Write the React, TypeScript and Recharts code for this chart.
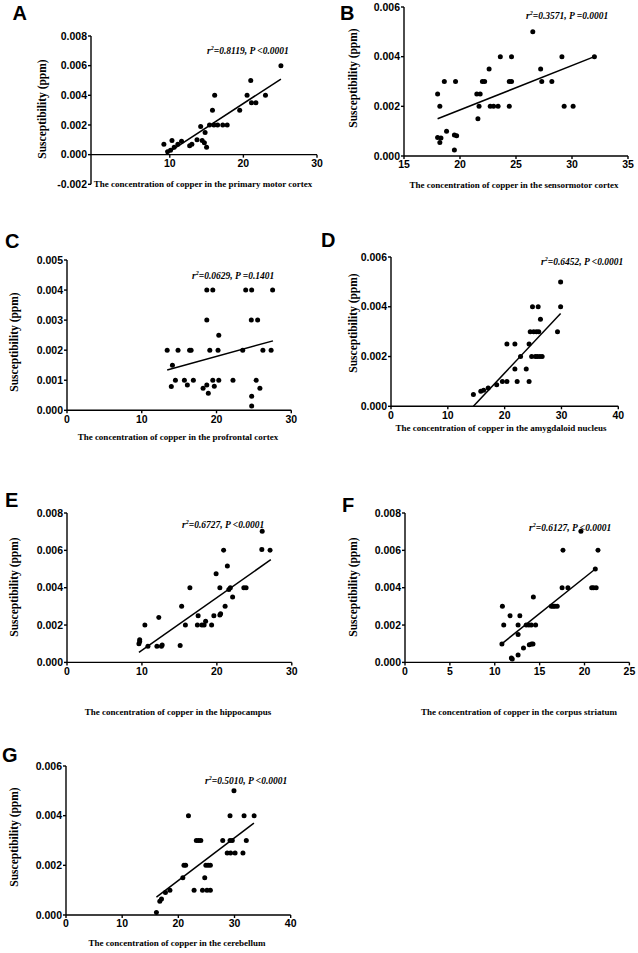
import React from "react";
import { ScatterChart, Scatter, XAxis, YAxis, ReferenceLine } from "recharts";

const SERIF = "'Times New Roman', 'Liberation Serif', serif";
const SANS = "Arial, 'Liberation Sans', Helvetica, sans-serif";

// A - primary motor cortex
const aX = [9.2, 9.7, 10.1, 10.3, 10.6, 11.1, 11.6, 12.7, 13.0, 13.7, 14.2, 14.4, 14.7, 14.8, 15.0, 15.4, 15.8, 16.0, 16.1, 16.5, 17.2, 17.8, 19.5, 20.5, 21.0, 21.1, 21.7, 23.0, 25.1];
const aY = [0.0007, 0.0002, 0.0003, 0.00095, 0.0005, 0.0007, 0.0009, 0.0006, 0.0007, 0.001, 0.0019, 0.00095, 0.0008, 0.0015, 0.0005, 0.002, 0.003, 0.002, 0.004, 0.002, 0.002, 0.002, 0.003, 0.004, 0.005, 0.0035, 0.0035, 0.004, 0.006];
const aFitX = [9.5, 25.1];
const aFitY = [0.00005, 0.0051];
const aXTicks = [10, 20, 30];
const aYTicks = [-0.002, 0, 0.002, 0.004, 0.006, 0.008];

// B - sensormotor cortex
const bX = [18.0, 18.0, 18.2, 18.2, 18.3, 18.6, 18.8, 19.5, 19.5, 19.7, 19.6, 21.5, 21.8, 21.6, 21.7, 22.0, 22.2, 22.6, 23.6, 22.7, 23.0, 23.4, 24.4, 24.4, 24.6, 24.6, 26.5, 27.2, 27.3, 28.2, 29.1, 29.3, 30.1, 32.0];
const bY = [0.0025, 0.00074, 0.002, 0.00054, 0.00072, 0.003, 0.001, 0.00024, 0.00085, 0.00082, 0.003, 0.0025, 0.0025, 0.0015, 0.002, 0.003, 0.003, 0.0035, 0.004, 0.002, 0.002, 0.002, 0.002, 0.003, 0.003, 0.004, 0.005, 0.0035, 0.003, 0.003, 0.004, 0.002, 0.002, 0.004];
const bFitX = [18.0, 32.0];
const bFitY = [0.0015, 0.004];
const bXTicks = [15, 20, 25, 30, 35];
const bYTicks = [0, 0.002, 0.004, 0.006];

// C - profrontal cortex
const cX = [13.4, 13.95, 14.1, 14.5, 14.85, 15.7, 16.1, 16.4, 16.6, 16.9, 18.2, 18.7, 18.7, 18.7, 18.9, 19.1, 19.5, 19.5, 19.7, 20.2, 20.3, 20.3, 22.2, 23.5, 23.9, 24.7, 24.65, 24.7, 24.7, 25.3, 25.5, 25.8, 26.2, 27.3, 27.5];
const cY = [0.002, 0.00079, 0.0015, 0.001, 0.002, 0.001, 0.00084, 0.002, 0.002, 0.001, 0.00073, 0.00084, 0.003, 0.004, 0.00057, 0.002, 0.004, 0.001, 0.0008, 0.002, 0.0025, 0.001, 0.001, 0.002, 0.004, 0.004, 0.003, 0.00047, 0.00014, 0.001, 0.003, 0.00073, 0.002, 0.002, 0.004];
const cFitX = [13.4, 27.55];
const cFitY = [0.00134, 0.00231];
const cXTicks = [0, 10, 20, 30];
const cYTicks = [0, 0.001, 0.002, 0.003, 0.004, 0.005];

// D - amygdaloid nucleus
const dX = [14.5, 15.8, 16.3, 17.1, 18.6, 19.6, 20.4, 20.4, 21.8, 21.8, 22.2, 22.8, 23.8, 24.3, 24.3, 24.5, 24.75, 24.9, 25.1, 25.4, 25.6, 25.75, 25.9, 26.0, 26.2, 26.3, 26.6, 29.3, 29.85, 29.85];
const dY = [0.00047, 0.0006, 0.00064, 0.00074, 0.00087, 0.001, 0.001, 0.0025, 0.0025, 0.0015, 0.001, 0.002, 0.0015, 0.001, 0.0025, 0.003, 0.002, 0.004, 0.003, 0.002, 0.003, 0.002, 0.004, 0.003, 0.002, 0.0035, 0.002, 0.003, 0.004, 0.005];
const dFitX = [14.5, 29.85];
const dFitY = [0.0, 0.00373];
const dXTicks = [0, 10, 20, 30, 40];
const dYTicks = [0, 0.002, 0.004, 0.006];

// E - hippocampus
const eX = [9.6, 9.7, 9.7, 10.4, 10.8, 12.0, 12.25, 12.6, 12.7, 15.1, 15.3, 15.8, 16.4, 17.4, 17.5, 18.0, 18.3, 18.5, 19.3, 19.6, 19.9, 20.4, 20.4, 20.5, 20.9, 21.1, 21.4, 21.6, 21.8, 22.1, 23.6, 23.9, 26.05, 26.0, 27.1];
const eY = [0.001, 0.00121, 0.00112, 0.002, 0.00086, 0.00086, 0.0024, 0.00086, 0.00093, 0.0009, 0.003, 0.002, 0.004, 0.002, 0.0025, 0.002, 0.002, 0.0022, 0.002, 0.0025, 0.00475, 0.004, 0.00254, 0.0026, 0.006, 0.003, 0.00516, 0.0039, 0.004, 0.0035, 0.004, 0.004, 0.00702, 0.00605, 0.006];
const eFitX = [9.6, 27.2];
const eFitY = [0.00054, 0.0055];
const eXTicks = [0, 10, 20, 30];
const eYTicks = [0, 0.002, 0.004, 0.006, 0.008];

// F - corpus striatum
const fX = [10.8, 10.85, 11.0, 11.7, 11.85, 11.95, 12.6, 12.6, 12.6, 12.8, 13.2, 13.5, 13.8, 13.85, 14.1, 14.26, 14.07, 14.3, 14.55, 16.3, 16.5, 16.7, 16.96, 17.5, 17.6, 18.15, 19.6, 20.8, 21.0, 21.3, 21.2, 21.5];
const fY = [0.00098, 0.003, 0.002, 0.0025, 0.00023, 0.00018, 0.0004, 0.002, 0.0015, 0.0025, 0.00077, 0.002, 0.002, 0.00095, 0.00098, 0.00098, 0.002, 0.0035, 0.002, 0.003, 0.003, 0.003, 0.003, 0.004, 0.006, 0.004, 0.00702, 0.004, 0.004, 0.004, 0.005, 0.006];
const fFitX = [10.74, 21.2];
const fFitY = [0.00098, 0.005];
const fXTicks = [0, 5, 10, 15, 20, 25];
const fYTicks = [0, 0.002, 0.004, 0.006, 0.008];

// G - cerebellum
const gX = [16.1, 16.7, 17.0, 17.7, 18.5, 20.8, 21.0, 21.3, 21.8, 22.8, 23.2, 23.6, 24.0, 24.3, 24.7, 24.9, 25.1, 25.3, 25.7, 25.7, 27.9, 28.7, 29.2, 29.2, 29.3, 29.6, 29.9, 30.1, 31.5, 31.7, 32.1, 33.5];
const gY = [0.0001, 0.00055, 0.00064, 0.00091, 0.001, 0.0015, 0.002, 0.002, 0.004, 0.001, 0.003, 0.003, 0.003, 0.001, 0.0015, 0.002, 0.001, 0.002, 0.002, 0.001, 0.003, 0.0025, 0.004, 0.003, 0.0025, 0.003, 0.005, 0.0025, 0.0025, 0.004, 0.003, 0.004];
const gFitX = [16.1, 33.45];
const gFitY = [0.00072, 0.0037];
const gXTicks = [0, 10, 20, 30, 40];
const gYTicks = [0, 0.002, 0.004, 0.006];

const letters = ["A", "B", "C", "D", "E", "F", "G"];
const regions = [
  "primary motor cortex",
  "sensormotor cortex",
  "profrontal cortex",
  "amygdaloid nucleus",
  "hippocampus",
  "corpus striatum",
  "cerebellum",
];
const r2Values = ["0.8119", "0.3571", "0.0629", "0.6452", "0.6727", "0.6127", "0.5010"];
const pValues = ["<0.0001", "=0.0001", "=0.1401", "<0.0001", "<0.0001", "<0.0001", "<0.0001"];

type Panel = {
  xs: number[];
  ys: number[];
  fitX: number[];
  fitY: number[];
  xTicks: number[];
  yTicks: number[];
  xDomain: [number, number];
  box: [number, number, number, number]; // left, right, top, bottom of plot area
  xTitle: [number, number];
  yTitle: [number, number];
  note: [number, number];
  letter: [number, number];
  zeroAxis?: boolean;
};

const panels: Panel[] = [
  { xs: aX, ys: aY, fitX: aFitX, fitY: aFitY, xTicks: aXTicks, yTicks: aYTicks, xDomain: [-0.7, 30],
    box: [90.7, 316.7, 35.7, 184], xTitle: [203, 184], yTitle: [42, 109], note: [207, 51], letter: [12.5, 20], zeroAxis: true },
  { xs: bX, ys: bY, fitX: bFitX, fitY: bFitY, xTicks: bXTicks, yTicks: bYTicks, xDomain: [15, 35],
    box: [404, 628, 6.7, 155.7], xTitle: [514, 185], yTitle: [353, 78], note: [526, 16], letter: [340, 20] },
  { xs: cX, ys: cY, fitX: cFitX, fitY: cFitY, xTicks: cXTicks, yTicks: cYTicks, xDomain: [0, 30],
    box: [66.7, 291, 260, 410.3], xTitle: [178, 437], yTitle: [14, 342], note: [192, 276], letter: [5, 248] },
  { xs: dX, ys: dY, fitX: dFitX, fitY: dFitY, xTicks: dXTicks, yTicks: dYTicks, xDomain: [0, 40],
    box: [390.7, 618, 256.7, 406], xTitle: [501, 428], yTitle: [353, 323], note: [541, 262], letter: [321, 246.5] },
  { xs: eX, ys: eY, fitX: eFitX, fitY: eFitY, xTicks: eXTicks, yTicks: eYTicks, xDomain: [0, 30],
    box: [66.7, 291.5, 513.3, 662.7], xTitle: [178, 712], yTitle: [14, 587], note: [182, 525], letter: [5, 507] },
  { xs: fX, ys: fY, fitX: fFitX, fitY: fFitY, xTicks: fXTicks, yTicks: fYTicks, xDomain: [0, 25],
    box: [405.3, 629.7, 513.3, 662.7], xTitle: [519, 712], yTitle: [353, 587], note: [529, 528], letter: [342, 512] },
  { xs: gX, ys: gY, fitX: gFitX, fitY: gFitY, xTicks: gXTicks, yTicks: gYTicks, xDomain: [0, 40],
    box: [66, 290.7, 766, 915], xTitle: [177, 943], yTitle: [13.5, 837], note: [205, 781], letter: [2, 762] },
];

const ML = 60;
const MT = 8;
const MR = 14;
const MB = 28;
const TS = 3;
const TM = 2;
const AXIS = { stroke: "#000", strokeWidth: 1.4 };
const TICK = { fill: "#000", fontSize: 10.5, fontWeight: 700, fontFamily: SANS };

const Dot = (props: any) => <circle cx={props.cx} cy={props.cy} r={2.5} fill="#000" />;

function ScatterPanel({ p }: { p: Panel }) {
  const [left, right, top, bottom] = p.box;
  const w = right - left;
  const h = bottom - top;
  const yMin = p.yTicks[0];
  const yMax = p.yTicks[p.yTicks.length - 1];
  const zeroShift = (h * (0 - yMin)) / (yMax - yMin);
  const points = p.xs.map((x, i) => ({ x, y: p.ys[i] }));

  // x axis drawn on the y = 0 line (panel A)
  const zeroTick = (t: any) => {
    const y0 = t.y - TS - TM - zeroShift;
    return (
      <g>
        <line x1={t.x} x2={t.x} y1={y0} y2={y0 + TS} stroke="#000" strokeWidth={1.4} />
        <text x={t.x} y={y0 + TS + TM} dy="0.71em" textAnchor="middle" {...TICK}>
          {t.payload.value}
        </text>
      </g>
    );
  };

  return (
    <div style={{ position: "absolute", left: left - ML, top: top - MT }}>
      <ScatterChart
        width={w + ML + MR}
        height={h + MT + MB}
        margin={{ top: MT, right: MR, bottom: 0, left: 0 }}
      >
        <XAxis
          type="number"
          dataKey="x"
          domain={p.xDomain}
          ticks={p.xTicks}
          interval={0}
          height={MB}
          tickSize={TS}
          tickMargin={TM}
          axisLine={p.zeroAxis ? false : AXIS}
          tickLine={p.zeroAxis ? false : AXIS}
          tick={p.zeroAxis ? zeroTick : TICK}
          allowDataOverflow
        />
        <YAxis
          type="number"
          dataKey="y"
          domain={[yMin, yMax]}
          ticks={p.yTicks}
          interval={0}
          width={ML}
          tickSize={TS}
          tickMargin={1}
          axisLine={AXIS}
          tickLine={AXIS}
          tick={TICK}
          tickFormatter={(v: number) => v.toFixed(3)}
          allowDataOverflow
        />
        {p.zeroAxis && <ReferenceLine y={0} stroke="#000" strokeWidth={1.4} />}
        <ReferenceLine
          segment={[
            { x: p.fitX[0], y: p.fitY[0] },
            { x: p.fitX[1], y: p.fitY[1] },
          ]}
          stroke="#000"
          strokeWidth={1.5}
          ifOverflow="visible"
        />
        <Scatter data={points} shape={Dot} isAnimationActive={false} />
      </ScatterChart>
    </div>
  );
}

export default function App() {
  return (
    <div style={{ position: "absolute", left: 0, top: 0, width: 638, height: 953, background: "#fff" }}>
      {panels.map((p, i) => (
        <ScatterPanel key={i} p={p} />
      ))}
      <svg width={638} height={953} style={{ position: "absolute", left: 0, top: 0, pointerEvents: "none" }}>
        {panels.map((p, i) => (
          <g key={i}>
            <text x={p.letter[0]} y={p.letter[1]} fontFamily={SANS} fontWeight={700} fontSize={20} fill="#000">
              {letters[i]}
            </text>
            <text
              transform={`translate(${p.yTitle[0]},${p.yTitle[1]}) rotate(-90)`}
              textAnchor="middle"
              dominantBaseline="central"
              fontFamily={SERIF}
              fontWeight={700}
              fontSize={11.5}
              fill="#000"
            >
              Susceptibility (ppm)
            </text>
            <text
              x={p.xTitle[0]}
              y={p.xTitle[1]}
              textAnchor="middle"
              dominantBaseline="central"
              fontFamily={SERIF}
              fontWeight={700}
              fontSize={9}
              fill="#000"
            >
              The concentration of copper in the {regions[i]}
            </text>
            <text
              x={p.note[0]}
              y={p.note[1]}
              dominantBaseline="central"
              fontFamily={SERIF}
              fontWeight={700}
              fontStyle="italic"
              fontSize={9.5}
              fill="#000"
            >
              r
              <tspan dy={-3.5} fontSize={6}>2</tspan>
              <tspan dy={3.5}>={r2Values[i]}, P {pValues[i]}</tspan>
            </text>
          </g>
        ))}
      </svg>
    </div>
  );
}
